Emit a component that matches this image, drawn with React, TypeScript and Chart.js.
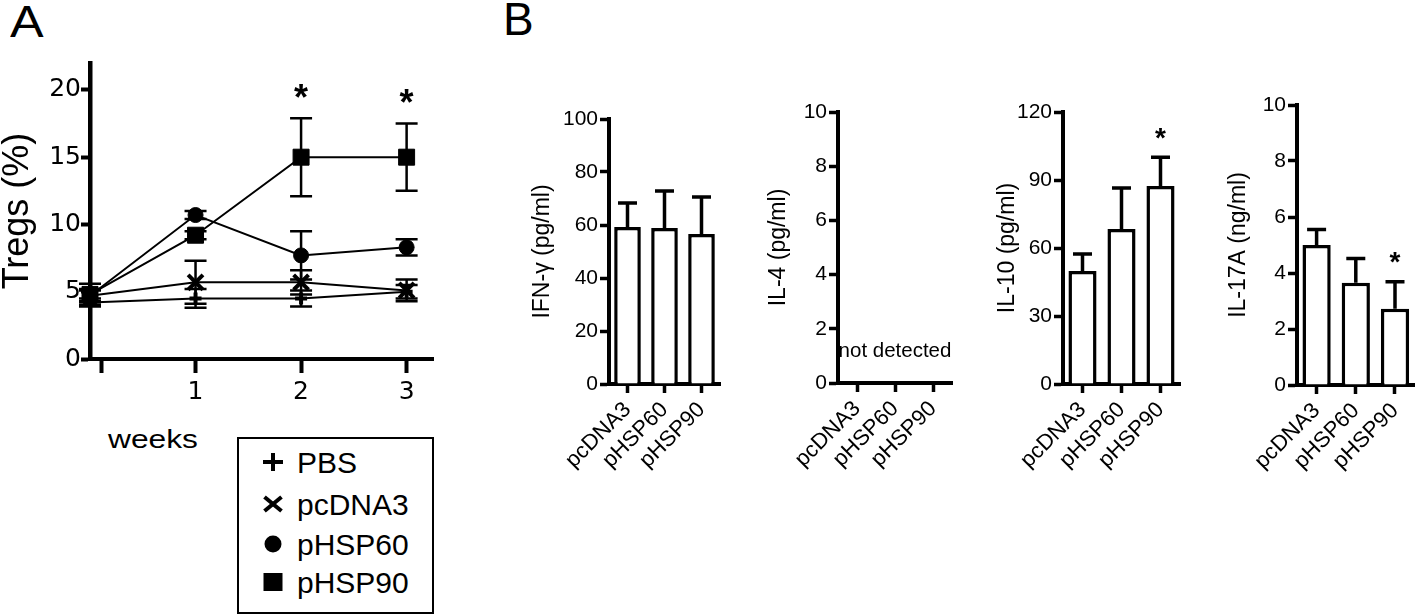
import React, { useEffect, useRef } from 'react';
import { Chart, registerables } from 'chart.js';

Chart.register(...registerables);

// ---------- Panel A data ----------
const weeks = [0, 1, 2, 3];
const weekTickValues = [0.11, 1, 2, 3];
const weekTickLabels = ['', '1', '2', '3'];
const tregTicks = [0, 5, 10, 15, 20];

const seriesNames = ['PBS', 'pcDNA3', 'pHSP60', 'pHSP90'];
const pbsMean = [4.2, 4.5, 4.5, 5.0];
const pbsErr = [0.3, 0.7, 0.6, 0.5];
const pcdnaMean = [4.7, 5.7, 5.7, 5.1];
const pcdnaErr = [0.5, 1.6, 0.9, 0.8];
const hsp60Mean = [4.7, 10.7, 7.7, 8.3];
const hsp60Err = [0.4, 0.3, 1.8, 0.6];
const hsp90Mean = [4.8, 9.2, 15.0, 15.0];
const hsp90Err = [0.8, 0.3, 2.9, 2.5];
const tregSigWeekIdx = [2, 3];

// ---------- Panel B data ----------
const groups = ['pcDNA3', 'pHSP60', 'pHSP90'];
const ifnMean = [59.2, 58.9, 56.6];
const ifnErr = [9.1, 13.9, 14.0];
const il4Mean: (number | null)[] = [null, null, null];
const il4Err: (number | null)[] = [null, null, null];
const il10Mean = [49.8, 68.4, 87.3];
const il10Err = [7.5, 18.1, 12.7];
const il17Mean = [5.0, 3.65, 2.72];
const il17Err = [0.55, 0.87, 0.97];
const il10Sig = [2];
const il17Sig = [2];

const SANS = '"Liberation Sans", Arial, Helvetica, sans-serif';

function drawStar(c: CanvasRenderingContext2D, x: number, yCenter: number, size: number) {
  c.save();
  c.fillStyle = '#000';
  c.font = `bold ${size}px ${SANS}`;
  c.textAlign = 'center';
  c.textBaseline = 'alphabetic';
  c.fillText('*', x, yCenter + 0.58 * size);
  c.restore();
}

function LinePanel() {
  const ref = useRef<HTMLCanvasElement>(null);
  useEffect(() => {
    const series = [
      { name: seriesNames[0], mean: pbsMean, err: pbsErr, style: 'cross', r: 6, bw: 4 },
      { name: seriesNames[1], mean: pcdnaMean, err: pcdnaErr, style: 'crossRot', r: 10.5, bw: 4 },
      { name: seriesNames[2], mean: hsp60Mean, err: hsp60Err, style: 'circle', r: 7.5, bw: 1 },
      { name: seriesNames[3], mean: hsp90Mean, err: hsp90Err, style: 'rect', r: 11.3, bw: 1 },
    ];
    const errPlugin = {
      id: 'tregErr',
      beforeDatasetsDraw(chart: any) {
        const c = chart.ctx as CanvasRenderingContext2D;
        const xs = chart.scales.x;
        const ys = chart.scales.y;
        c.save();
        c.strokeStyle = '#000';
        c.lineWidth = 2.5;
        series.forEach((s) =>
          s.mean.forEach((m, j) => {
            const x = xs.getPixelForValue(weeks[j]);
            const top = ys.getPixelForValue(m + s.err[j]);
            const bot = ys.getPixelForValue(m - s.err[j]);
            c.beginPath();
            c.moveTo(x, top);
            c.lineTo(x, bot);
            c.moveTo(x - 11, top);
            c.lineTo(x + 11, top);
            c.moveTo(x - 11, bot);
            c.lineTo(x + 11, bot);
            c.stroke();
          })
        );
        c.restore();
      },
      afterDatasetsDraw(chart: any) {
        const c = chart.ctx as CanvasRenderingContext2D;
        const xs = chart.scales.x;
        const ys = chart.scales.y;
        tregSigWeekIdx.forEach((j) => {
          const x = xs.getPixelForValue(weeks[j]);
          const top = ys.getPixelForValue(hsp90Mean[j] + hsp90Err[j]);
          drawStar(c, x, top - 29, 36);
        });
      },
    };
    const chart = new Chart(ref.current as HTMLCanvasElement, {
      type: 'scatter',
      data: {
        datasets: series.map((s) => ({
          label: s.name,
          data: weeks.map((w, j) => ({ x: w, y: s.mean[j] })),
          showLine: true,
          borderColor: '#000',
          backgroundColor: '#000',
          borderWidth: 2,
          pointStyle: s.style as any,
          pointRadius: s.r,
          pointBorderWidth: s.bw,
          pointBorderColor: '#000',
          pointBackgroundColor: '#000',
          clip: false as any,
        })),
      },
      options: {
        responsive: false,
        animation: false,
        events: [],
        layout: { padding: { left: 0, top: 63, right: 27, bottom: 11 }, autoPadding: false },
        plugins: { legend: { display: false }, tooltip: { enabled: false } },
        scales: {
          x: {
            type: 'linear',
            min: 0,
            max: 3.25,
            afterBuildTicks: (s: any) => {
              s.ticks = weekTickValues.map((v) => ({ value: v }));
            },
            afterFit: (s: any) => {
              s.height = 50;
            },
            ticks: {
              callback: (_v: any, i: number) => weekTickLabels[i],
              font: { family: '"DejaVu Sans"', size: 25 },
              color: '#000',
              padding: 4,
              maxRotation: 0,
              autoSkip: false,
            },
            grid: { drawOnChartArea: false, drawTicks: true, tickLength: 14, tickWidth: 4, tickColor: '#000' },
            border: { display: true, color: '#000', width: 4 },
          },
          y: {
            min: 0,
            max: 22,
            afterBuildTicks: (s: any) => {
              s.ticks = tregTicks.map((v) => ({ value: v }));
            },
            afterFit: (s: any) => {
              s.width = 90;
            },
            ticks: { font: { family: '"DejaVu Sans"', size: 25 }, color: '#000', padding: 0 },
            grid: { drawOnChartArea: false, drawTicks: true, tickLength: 9, tickWidth: 4, tickColor: '#000' },
            border: { display: true, color: '#000', width: 4.5 },
            title: {
              display: true,
              text: 'Tregs (%)',
              color: '#000',
              padding: 0,
              font: { family: SANS, size: 36, lineHeight: 1 },
            },
          },
        },
      },
      plugins: [errPlugin],
    } as any);
    return () => chart.destroy();
  }, []);
  return (
    <canvas
      ref={ref}
      width={460}
      height={420}
      style={{ position: 'absolute', left: 0, top: 0, width: 460, height: 420 }}
    />
  );
}

type BarProps = {
  left: number;
  top: number;
  width: number;
  height: number;
  pad: { left: number; top: number; right: number; bottom: number };
  yWidth: number;
  xHeight: number;
  title: string;
  yMax: number;
  yStep: number;
  mean: (number | null)[];
  err: (number | null)[];
  sig: number[];
  note?: string;
  noteLevel?: number;
};

function BarPanel(p: BarProps) {
  const ref = useRef<HTMLCanvasElement>(null);
  useEffect(() => {
    const errPlugin = {
      id: 'barErr',
      afterDatasetsDraw(chart: any) {
        const c = chart.ctx as CanvasRenderingContext2D;
        const ys = chart.scales.y;
        const meta = chart.getDatasetMeta(0);
        c.save();
        c.strokeStyle = '#000';
        c.lineWidth = 3.5;
        p.mean.forEach((m, i) => {
          const e = p.err[i];
          if (m == null || e == null) return;
          const x = meta.data[i].x;
          const y0 = ys.getPixelForValue(m);
          const y1 = ys.getPixelForValue(m + e);
          c.beginPath();
          c.moveTo(x, y0);
          c.lineTo(x, y1);
          c.moveTo(x - 9.5, y1);
          c.lineTo(x + 9.5, y1);
          c.stroke();
          if (p.sig.includes(i)) drawStar(c, x, y1 - 27, 28);
        });
        if (p.note) {
          const a = chart.chartArea;
          c.fillStyle = '#000';
          c.font = `20.5px ${SANS}`;
          c.textAlign = 'center';
          c.textBaseline = 'middle';
          c.fillText(p.note, (a.left + a.right) / 2, ys.getPixelForValue(p.noteLevel ?? 1));
        }
        c.restore();
      },
    };
    const chart = new Chart(ref.current as HTMLCanvasElement, {
      type: 'bar',
      data: {
        labels: groups,
        datasets: [
          {
            data: p.mean,
            backgroundColor: '#fff',
            borderColor: '#000',
            borderWidth: 3.5,
            barPercentage: 0.72,
            categoryPercentage: 1,
          },
        ],
      },
      options: {
        responsive: false,
        animation: false,
        events: [],
        layout: { padding: p.pad, autoPadding: false },
        plugins: { legend: { display: false }, tooltip: { enabled: false } },
        scales: {
          x: {
            afterFit: (s: any) => {
              s.height = p.xHeight;
            },
            ticks: {
              font: { family: SANS, size: 22 },
              color: '#000',
              minRotation: 45,
              maxRotation: 45,
              autoSkip: false,
              padding: 4,
            },
            grid: { offset: false, drawOnChartArea: false, drawTicks: true, tickLength: 9, tickWidth: 3.5, tickColor: '#000' },
            border: { display: true, color: '#000', width: 4 },
          },
          y: {
            min: 0,
            max: p.yMax,
            afterFit: (s: any) => {
              s.width = p.yWidth;
            },
            ticks: { stepSize: p.yStep, font: { family: SANS, size: 21 }, color: '#000', padding: 2 },
            grid: { drawOnChartArea: false, drawTicks: true, tickLength: 9, tickWidth: 3.5, tickColor: '#000' },
            border: { display: true, color: '#000', width: 4 },
            title: {
              display: true,
              text: p.title,
              color: '#000',
              padding: 0,
              font: { family: SANS, size: 23, lineHeight: 1 },
            },
          },
        },
      },
      plugins: [errPlugin],
    } as any);
    return () => chart.destroy();
  }, []);
  return (
    <canvas
      ref={ref}
      width={p.width}
      height={p.height}
      style={{ position: 'absolute', left: p.left, top: p.top, width: p.width, height: p.height }}
    />
  );
}

function LegendMarker({ kind }: { kind: string }) {
  return (
    <svg width={24} height={24} viewBox="-12 -12 24 24" style={{ position: 'absolute', left: -12, top: -12 }}>
      {kind === 'cross' && (
        <g stroke="#000" strokeWidth={4}>
          <line x1={-10} y1={0} x2={10} y2={0} />
          <line x1={0} y1={-9} x2={0} y2={9} />
        </g>
      )}
      {kind === 'crossRot' && (
        <g stroke="#000" strokeWidth={4}>
          <line x1={-8.5} y1={-7} x2={8.5} y2={7} />
          <line x1={-8.5} y1={7} x2={8.5} y2={-7} />
        </g>
      )}
      {kind === 'circle' && <circle cx={0} cy={0} r={8.5} fill="#000" />}
      {kind === 'rect' && <rect x={-9.5} y={-9} width={19} height={18} fill="#000" />}
    </svg>
  );
}

const legendKinds = ['cross', 'crossRot', 'circle', 'rect'];
const legendBaselines = [473, 515, 555, 593];

export default function App() {
  return (
    <div
      style={{
        position: 'fixed',
        left: 0,
        top: 0,
        width: 1418,
        height: 615,
        overflow: 'hidden',
        background: '#fff',
        fontFamily: SANS,
        color: '#000',
      }}
    >
      <div
        style={{
          position: 'absolute',
          left: 10,
          top: -1,
          fontSize: 45,
          lineHeight: 1,
          transform: 'scaleX(1.12)',
          transformOrigin: 'left top',
        }}
      >
        A
      </div>
      <div style={{ position: 'absolute', left: 503, top: -4, fontSize: 46, lineHeight: 1 }}>B</div>

      <LinePanel />

      <div
        style={{
          position: 'absolute',
          left: 108,
          top: 427,
          fontSize: 25,
          lineHeight: 1,
          transform: 'scaleX(1.27)',
          transformOrigin: 'left top',
          whiteSpace: 'nowrap',
        }}
      >
        weeks
      </div>

      <div
        style={{
          position: 'absolute',
          left: 237,
          top: 437,
          width: 197,
          height: 177,
          border: '2px solid #000',
          boxSizing: 'border-box',
        }}
      />
      {seriesNames.map((name, i) => (
        <React.Fragment key={name}>
          <div style={{ position: 'absolute', left: 273, top: legendBaselines[i] - 11 }}>
            <LegendMarker kind={legendKinds[i]} />
          </div>
          <div
            style={{
              position: 'absolute',
              left: 297,
              top: legendBaselines[i] - 25.4,
              fontSize: 30,
              lineHeight: 1,
              whiteSpace: 'nowrap',
            }}
          >
            {name}
          </div>
        </React.Fragment>
      ))}

      <BarPanel
        left={531}
        top={90}
        width={209}
        height={400}
        pad={{ left: 0, top: 29, right: 20, bottom: 6 }}
        yWidth={78}
        xHeight={100}
        title="IFN-γ (pg/ml)"
        yMax={100}
        yStep={20}
        mean={ifnMean}
        err={ifnErr}
        sig={[]}
      />
      <BarPanel
        left={767}
        top={90}
        width={205}
        height={400}
        pad={{ left: 0, top: 22, right: 20, bottom: 7 }}
        yWidth={71}
        xHeight={100}
        title="IL-4 (pg/ml)"
        yMax={10}
        yStep={2}
        mean={il4Mean}
        err={il4Err}
        sig={[]}
        note="not detected"
        noteLevel={1.15}
      />
      <BarPanel
        left={996}
        top={90}
        width={204}
        height={400}
        pad={{ left: 0, top: 22, right: 20, bottom: 6 }}
        yWidth={67}
        xHeight={100}
        title="IL-10 (pg/ml)"
        yMax={120}
        yStep={30}
        mean={il10Mean}
        err={il10Err}
        sig={il10Sig}
      />
      <BarPanel
        left={1227}
        top={90}
        width={191}
        height={400}
        pad={{ left: 0, top: 15, right: 2, bottom: 5 }}
        yWidth={70}
        xHeight={100}
        title="IL-17A (ng/ml)"
        yMax={10}
        yStep={2}
        mean={il17Mean}
        err={il17Err}
        sig={il17Sig}
      />
    </div>
  );
}
